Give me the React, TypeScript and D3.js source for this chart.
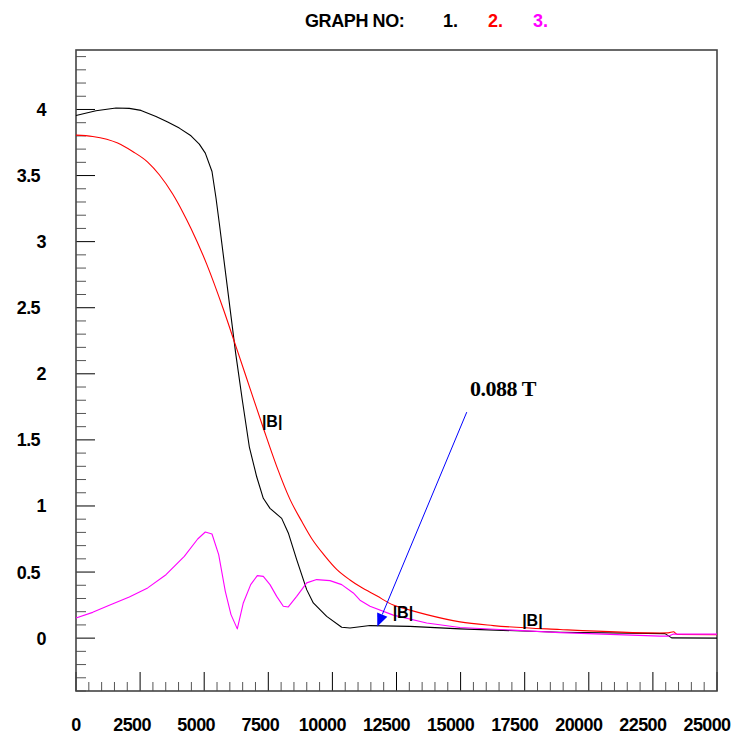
import React from "react";
import * as d3 from "d3";

const blackX = [0, 780, 1560, 2080, 2535, 3120, 3576, 4029, 4485, 4809, 5043, 5304, 5460, 5589, 6228, 6486, 6759, 7047, 7305, 7566, 8022, 8280, 8607, 8997, 9255, 9777, 10362, 10686, 11466, 13026, 14976, 18876, 22971, 23232, 25000];
const blackY = [3.955, 3.99, 4.011, 4.008, 3.993, 3.947, 3.905, 3.859, 3.801, 3.738, 3.67, 3.531, 3.33, 3.139, 2.155, 1.802, 1.448, 1.221, 1.058, 0.982, 0.906, 0.796, 0.594, 0.367, 0.266, 0.165, 0.082, 0.077, 0.095, 0.089, 0.07, 0.044, 0.034, 0.002, 0.0];

const redX = [0, 651, 1626, 2211, 2796, 3249, 3771, 4161, 4485, 5097, 5745, 6267, 6786, 7305, 7827, 8346, 8814, 9204, 9672, 10167, 10686, 11076, 11727, 12375, 13026, 13677, 14976, 16275, 18876, 22776, 23100, 23300, 23450, 25000];
const redY = [3.806, 3.796, 3.746, 3.682, 3.602, 3.506, 3.36, 3.225, 3.1, 2.83, 2.49, 2.19, 1.89, 1.59, 1.3, 1.05, 0.88, 0.75, 0.63, 0.52, 0.44, 0.39, 0.32, 0.25, 0.212, 0.178, 0.123, 0.095, 0.065, 0.039, 0.04, 0.048, 0.028, 0.026];

const magX = [0, 651, 1299, 2079, 2796, 3510, 4224, 4746, 5043, 5304, 5565, 5823, 6045, 6291, 6525, 6813, 7071, 7305, 7566, 7827, 8085, 8280, 8607, 8997, 9387, 9906, 10362, 10815, 11076, 11466, 12375, 13677, 14976, 18876, 22776, 23088, 23283, 25000];
const magY = [0.153, 0.195, 0.248, 0.312, 0.38, 0.48, 0.619, 0.75, 0.803, 0.788, 0.632, 0.354, 0.178, 0.07, 0.266, 0.405, 0.473, 0.467, 0.405, 0.316, 0.241, 0.236, 0.316, 0.418, 0.443, 0.435, 0.405, 0.342, 0.287, 0.241, 0.174, 0.115, 0.081, 0.042, 0.015, 0.015, 0.03, 0.03];

const xTickValues = [0, 2500, 5000, 7500, 10000, 12500, 15000, 17500, 20000, 22500, 25000];
const xTickLabels = ["0", "2500", "5000", "7500", "10000", "12500", "15000", "17500", "20000", "22500", "25000"];
const yTickValues = [0, 0.5, 1, 1.5, 2, 2.5, 3, 3.5, 4];
const yTickLabels = ["0", "0.5", "1", "1.5", "2", "2.5", "3", "3.5", "4"];

const legendNumbers = ["1.", "2.", "3."];
const seriesColors = ["#000000", "#ff0000", "#ff00ff"];

// annotations in data units
const bLabels = [
  { x: 7250, y: 1.6, text: "|B|" },
  { x: 12350, y: 0.15, text: "|B|" },
  { x: 17400, y: 0.095, text: "|B|" },
];
const arrowFrom = { x: 15240, y: 1.71 };
const arrowTo = { x: 11750, y: 0.088 };
const arrowText = { x: 15370, y: 1.83, text: "0.088 T" };

export default function App() {
  const left = 76, right = 717, top = 50, bottom = 691;
  const x = d3.scaleLinear().domain([0, 25000]).range([left, right]);
  const y = d3.scaleLinear().domain([-0.4, 4.45]).range([bottom, top]);

  const mk = (xs: number[], ys: number[], curve: any) =>
    d3.line<number>().x((_, i) => x(xs[i])).y((_, i) => y(ys[i])).curve(curve)(xs) || "";

  const series = [
    { d: mk(blackX, blackY, d3.curveLinear), c: seriesColors[0] },
    { d: mk(redX, redY, d3.curveMonotoneX), c: seriesColors[1] },
    { d: mk(magX, magY, d3.curveLinear), c: seriesColors[2] },
  ];

  const yMinor = d3.range(-4, 45).map((k) => k / 10);
  const xMinor = d3.range(0, 51).map((k) => k * 500);

  const ax1 = x(arrowFrom.x), ay1 = y(arrowFrom.y);
  const ax2 = x(arrowTo.x), ay2 = y(arrowTo.y);
  const ang = Math.atan2(ay2 - ay1, ax2 - ax1);
  const hl = 13, hw = 5.5;
  const bx = ax2 - hl * Math.cos(ang), by = ay2 - hl * Math.sin(ang);
  const head = `M${ax2},${ay2} L${bx + hw * Math.sin(ang)},${by - hw * Math.cos(ang)} L${bx - hw * Math.sin(ang)},${by + hw * Math.cos(ang)} Z`;

  return (
    <div style={{ position: "absolute", left: 0, top: 0 }}>
      <svg width={733} height={734} style={{ display: "block", background: "#fff" }} fontFamily="'Liberation Sans', Arial, sans-serif">
        <rect x={0} y={0} width={733} height={734} fill="#fff" />
        {/* legend */}
        <text x={305} y={27} fontSize={18} fontWeight="bold" fill="#000" letterSpacing={-0.4}>GRAPH NO:</text>
        {legendNumbers.map((t, i) => (
          <text key={t} x={443 + i * 45} y={27} fontSize={18} fontWeight="bold" fill={seriesColors[i]}>{t}</text>
        ))}

        {/* y ticks */}
        {yMinor.map((v, i) => {
          const major = Math.abs(Math.round(v * 10) % 5) === 0;
          return (
            <line key={"ym" + i} x1={left} x2={left + (major ? 19 : 10)} y1={y(v)} y2={y(v)} stroke={major ? "#000" : "#555"} strokeWidth={1} />
          );
        })}
        {/* x ticks */}
        {xMinor.map((v, i) => {
          const major = v % 2500 === 0;
          return (
            <line key={"xm" + i} x1={x(v)} x2={x(v)} y1={bottom} y2={bottom - (major ? 19 : 9)} stroke={major ? "#000" : "#555"} strokeWidth={1} />
          );
        })}

        {/* frame */}
        <rect x={left} y={top} width={right - left} height={bottom - top} fill="none" stroke="#444" strokeWidth={1.6} />

        {/* y labels */}
        {yTickValues.map((v, i) => (
          <text key={"yl" + i} x={yTickLabels[i].length === 1 ? 46 : 40} y={y(v) + 6.5} fontSize={18} fontWeight="bold" textAnchor="end" letterSpacing={-0.6}>
            {yTickLabels[i]}
          </text>
        ))}
        {/* x labels */}
        {xTickValues.map((v, i) => {
          const len = xTickLabels[i].length;
          const dx = len === 1 ? 0 : len === 4 ? -8 : -10;
          return (
            <text key={"xl" + i} x={x(v) + dx} y={731} fontSize={18} fontWeight="bold" textAnchor="middle" letterSpacing={-0.6}>
              {xTickLabels[i]}
            </text>
          );
        })}

        {/* series */}
        <g fill="none" strokeWidth={1.1} strokeLinejoin="round">
          {series.map((s, i) => (
            <path key={"s" + i} d={s.d} stroke={s.c} />
          ))}
        </g>

        {/* labels */}
        {bLabels.map((b, i) => (
          <text key={"b" + i} x={x(b.x)} y={y(b.y)} fontSize={16} fontWeight="bold" fill="#000">{b.text}</text>
        ))}

        {/* arrow */}
        <line x1={ax1} y1={ay1} x2={bx} y2={by} stroke="#0000ff" strokeWidth={1} />
        <path d={head} fill="#0000ff" />
        <text x={x(arrowText.x)} y={y(arrowText.y)} fontSize={22} fontWeight="bold" fontFamily="'Liberation Serif', 'Times New Roman', serif" letterSpacing={-0.5}>
          {arrowText.text}
        </text>
      </svg>
    </div>
  );
}
